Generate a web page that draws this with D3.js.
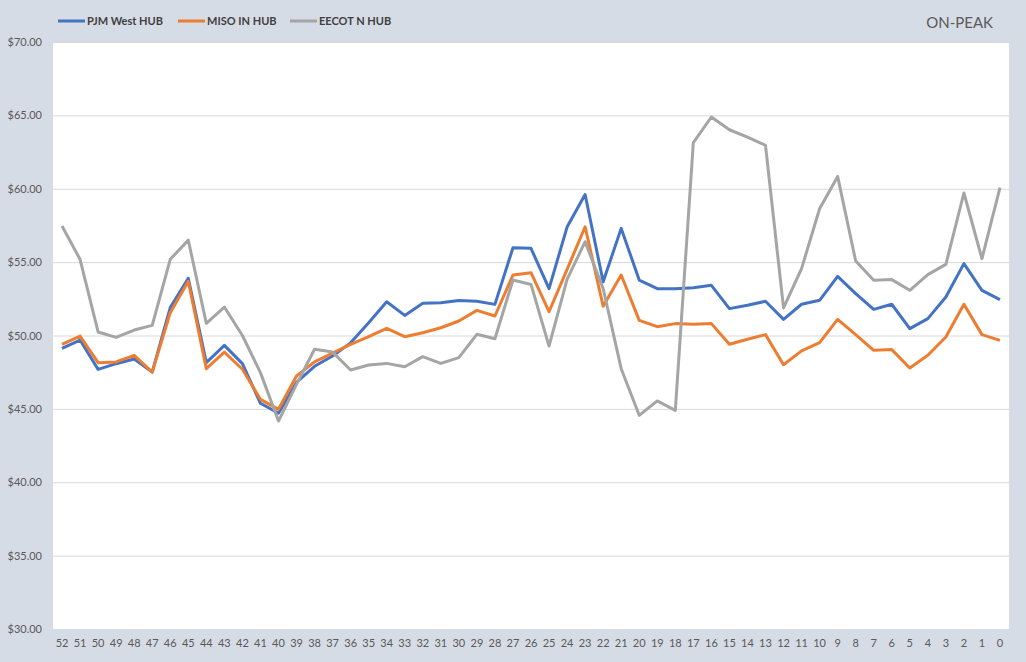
<!DOCTYPE html>
<html><head><meta charset="utf-8">
<script src="https://cdn.jsdelivr.net/npm/d3@7"></script>
<style>body{margin:0;background:#d6dce5;} svg{display:block;}</style>
</head><body>
<svg id="chart" width="1026" height="662"></svg>
<script>
const categories = ["52","51","50","49","48","47","46","45","44","43","42","41","40","39","38","37","36","35","34","33","32","31","30","29","28","27","26","25","24","23","22","21","20","19","18","17","16","15","14","13","12","11","10","9","8","7","6","5","4","3","2","1","0"];
const pjmWest = [49.12,49.69,47.69,48.08,48.4,47.51,51.9,53.9,48.15,49.33,48.08,45.38,44.7,46.8,47.9,48.6,49.5,50.87,52.3,51.37,52.19,52.23,52.39,52.33,52.12,55.98,55.94,53.19,57.39,59.61,53.66,57.3,53.78,53.19,53.19,53.26,53.42,51.83,52.06,52.33,51.1,52.13,52.4,54.03,52.85,51.78,52.13,50.47,51.15,52.62,54.9,53.08,52.44];
const misoIn = [49.4,49.96,48.15,48.2,48.65,47.5,51.55,53.7,47.74,48.87,47.7,45.65,44.97,47.24,48.2,48.8,49.4,49.92,50.49,49.92,50.19,50.53,50.99,51.71,51.33,54.12,54.28,51.62,54.5,57.41,52.0,54.12,51.03,50.6,50.81,50.76,50.81,49.4,49.74,50.06,48.01,48.95,49.51,51.1,50.06,48.99,49.04,47.79,48.65,49.9,52.13,50.06,49.67];
const eecotN = [57.46,55.19,50.24,49.87,50.37,50.69,55.19,56.5,50.83,51.94,50.0,47.47,44.17,46.67,49.06,48.87,47.65,47.99,48.1,47.87,48.56,48.1,48.49,50.08,49.78,53.78,53.48,49.28,53.82,56.39,53.2,47.74,44.56,45.54,44.9,63.14,64.89,64.02,63.52,62.96,51.88,54.56,58.64,60.84,55.08,53.76,53.81,53.08,54.15,54.85,59.71,55.24,60.07];
const yTicks = [30,35,40,45,50,55,60,65,70];
const seriesNames = ["PJM West HUB","MISO IN HUB","EECOT N HUB"];
const seriesColors = ["#4472c4","#ed7d31","#a5a5a5"];
const seriesData = [pjmWest, misoIn, eecotN];

const svg = d3.select("#chart");
const plot = {left:53, right:1009, top:42, bottom:629};
svg.append("rect").attr("width",1026).attr("height",662).attr("fill","#d6dce5");
svg.append("rect").attr("x",plot.left).attr("y",plot.top)
  .attr("width",plot.right-plot.left).attr("height",plot.bottom-plot.top).attr("fill","#ffffff");

const x = d3.scaleBand().domain(categories).range([plot.left, plot.right]);
const y = d3.scaleLinear().domain([30,70]).range([plot.bottom, plot.top]);

// gridlines
svg.append("g").selectAll("line").data(yTicks.filter(t=>t>30)).join("line")
  .attr("x1",plot.left).attr("x2",plot.right)
  .attr("y1",d=>y(d)+0.5).attr("y2",d=>y(d)+0.5)
  .attr("stroke","#d9d9d9").attr("stroke-width",1);

// y axis
const yAxis = d3.axisLeft(y).tickValues(yTicks).tickFormat(d=>"$"+d3.format(".2f")(d)).tickSize(0).tickPadding(11);
const ya = svg.append("g").attr("transform",`translate(${plot.left},0)`).call(yAxis);
ya.select(".domain").remove();
ya.selectAll("text").attr("fill","#595959").style("font-family","Lato, 'Open Sans', sans-serif").style("font-size","11px");

// x axis
const xAxis = d3.axisBottom(x).tickSize(0).tickPadding(10);
const xa = svg.append("g").attr("transform",`translate(0,${plot.bottom})`).call(xAxis);
xa.select(".domain").remove();
xa.selectAll("text").attr("fill","#595959").style("font-family","Lato, 'Open Sans', sans-serif").style("font-size","11px");

// lines
const line = d3.line().x((d,i)=>x(categories[i])+x.bandwidth()/2).y(d=>y(d));
seriesData.forEach((s,k)=>{
  svg.append("path").datum(s).attr("d",line).attr("fill","none")
    .attr("stroke",seriesColors[k]).attr("stroke-width",3).attr("stroke-linejoin","round");
});

// legend
const legX = [58,178,290];
seriesNames.forEach((n,k)=>{
  const g = svg.append("g").attr("transform",`translate(${legX[k]},21)`);
  g.append("line").attr("x1",0).attr("x2",27).attr("y1",0).attr("y2",0)
    .attr("stroke",seriesColors[k]).attr("stroke-width",3);
  g.append("text").attr("x",29).attr("y",4).text(n).attr("fill","#404040")
    .style("font-family","Lato, 'Open Sans', sans-serif").style("font-size","11px").style("font-weight","bold");
});

svg.append("text").attr("x",993).attr("y",28).attr("text-anchor","end").text("ON-PEAK")
  .attr("fill","#595959").style("font-family","Lato, 'Open Sans', sans-serif").style("font-size","15px");
</script>
</body></html>
